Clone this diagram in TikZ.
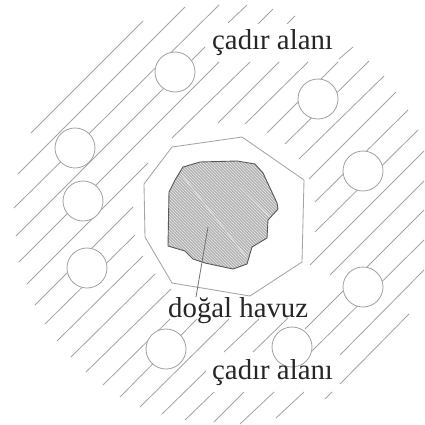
\documentclass[tikz,border=0pt]{standalone}
\usepackage{fontspec}
\setmainfont{Liberation Serif}
\usetikzlibrary{patterns}
\definecolor{hatchline}{RGB}{165,165,165}
\definecolor{pondgray}{RGB}{178,178,178}
\tikzset{
  hatchseg/.style={hatchline,line width=0.85pt},
  tent/.style={circle,draw=hatchline,line width=0.85pt,fill=white,minimum size=40pt,inner sep=0pt},
  fence/.style={draw=hatchline,line width=0.85pt,fill=white},
  pondedge/.style={draw=black!65,line width=0.9pt},
  streak/.style={white!90!black,line width=0.7pt},
  leader/.style={draw=black!55,line width=0.8pt},
  arealabel/.style={font=\fontsize{28.8}{30}\selectfont,anchor=base west,inner sep=0pt,text=black!85}
}
\newcommand{\pondpath}{(183,167) -- (200,162) -- (237,161) -- (255,164) -- (263,173) -- (277,203)
  -- (278,209) -- (268,220) -- (267,238) -- (252,247) -- (247,264) -- (233,269) -- (205,263)
  -- (193,259) -- (185,251) -- (168,246) -- (169,192) -- (175,180) -- cycle}

\begin{document}
\begin{tikzpicture}[x=1pt,y=-1pt]
  \useasboundingbox (0,0) rectangle (425,425);
  \foreach \xa/\ya/\xb/\yb in {31/133/143/21,18/174/185/7,14/208/219/5,16/236/205/47,228/23/247/5,
    19/262/219/62,258/24/273/9,27/284/148/163,172/138/250/62,287/24/295/16,35/305/133/207,
    218/123/279/62,45/324/135/235,245/124/308/62,57/341/143/256,267/133/338/62,339/59/353/47,
    71/357/155/274,285/144/369/61,86/372/171/289,299/159/384/76,103/385/170/319,309/179/396/92,
    120/397/197/319,315/202/408/110,140/407/229/319,315/232/418/130,162/414/206/371,224/352/259/319,
    310/265/424/151,185/420/214/392,253/352/288/318,330/275/424/181,214/422/244/392,305/329/424/210,
    240/424/274/392,312/351/424/240,276/418/304/392,340/355/424/270,325/399/332/392,340/384/409/314}
    \draw[hatchseg] (\xa,\ya) -- (\xb,\yb);
  \foreach \name/\xc/\yc in {tenta/175/72,tentb/75/148,tentc/83/201,tentd/87/268,tente/166/349,
    tentf/318/99,tentg/363/171,tenth/363/287,tenti/292/347}
    \node[tent] (\name) at (\xc,\yc) {};
  \draw[fence] (172,147) -- (242,137) -- (304,180) -- (302,262) -- (250,296) -- (172,283)
    -- (145,237) -- (144,184) -- cycle;
  \path[fill=pondgray] \pondpath;
  \path[pattern=north west lines,pattern color=white!92!black] \pondpath;
  \draw[streak] (182,175) -- (247,258);
  \draw[streak] (240,188) -- (270,217);
  \draw[pondedge] \pondpath;
  \node[arealabel] (alantop) at (212,50) {çadır alanı};
  \node[arealabel] (havuz) at (168,317) {doğal havuz};
  \node[arealabel] (alanbottom) at (212,379) {çadır alanı};
  \coordinate (pondtip) at (208,227);
  \coordinate (havuztop) at (196,297);
  \draw[leader] (pondtip) -- (havuztop);
\end{tikzpicture}
\end{document}
